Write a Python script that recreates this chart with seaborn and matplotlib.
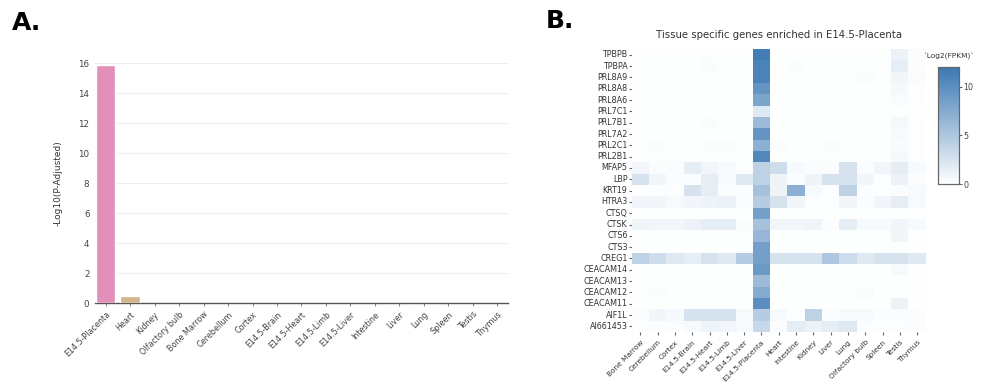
import matplotlib
matplotlib.use("Agg")
import matplotlib.pyplot as plt
import seaborn as sns
import pandas as pd
import numpy as np
from matplotlib.colors import LinearSegmentedColormap

# Panel A: enrichment per tissue
bar_tissues = ["E14.5-Placenta", "Heart", "Kidney", "Olfactory bulb", "Bone Marrow",
               "Cerebellum", "Cortex", "E14.5-Brain", "E14.5-Heart", "E14.5-Limb",
               "E14.5-Liver", "Intestine", "Liver", "Lung", "Spleen", "Testis", "Thymus"]
bar_values = [15.9, 0.48, 0.02, 0.01, 0, 0, 0, 0, 0, 0, 0, 0, 0, 0, 0, 0, 0]
bar_colors = ["#e28fba", "#d2b48c"] + ["#bfbfbf"] * 15

# Panel B: expression heatmap
heat_tissues = ["Bone Marrow", "Cerebellum", "Cortex", "E14.5-Brain", "E14.5-Heart",
                "E14.5-Limb", "E14.5-Liver", "E14.5-Placenta", "Heart", "Intestine",
                "Kidney", "Liver", "Lung", "Olfactory bulb", "Spleen", "Testis", "Thymus"]
genes = ["TPBPB", "TPBPA", "PRL8A9", "PRL8A8", "PRL8A6", "PRL7C1", "PRL7B1", "PRL7A2",
         "PRL2C1", "PRL2B1", "MFAP5", "LBP", "KRT19", "HTRA3", "CTSQ", "CTSK", "CTS6",
         "CTS3", "CREG1", "CEACAM14", "CEACAM13", "CEACAM12", "CEACAM11", "AIF1L", "AI661453"]
log2_fpkm = [
    [0.1, 0.1, 0.1, 0.1, 0.2, 0.1, 0.1, 11.5, 0.1, 0.1, 0.1, 0.1, 0.1, 0.1, 0.1, 1.2, 0.3],
    [0.1, 0.1, 0.1, 0.1, 0.3, 0.1, 0.1, 11.0, 0.1, 0.3, 0.1, 0.1, 0.1, 0.1, 0.1, 1.5, 0.3],
    [0.1, 0.1, 0.1, 0.1, 0.1, 0.1, 0.1, 11.0, 0.1, 0.2, 0.1, 0.1, 0.1, 0.3, 0.1, 0.8, 0.4],
    [0.1, 0.1, 0.1, 0.1, 0.1, 0.1, 0.1, 9.5, 0.1, 0.1, 0.1, 0.1, 0.1, 0.1, 0.1, 0.6, 0.2],
    [0.1, 0.1, 0.1, 0.1, 0.1, 0.1, 0.1, 8.0, 0.1, 0.1, 0.1, 0.1, 0.1, 0.1, 0.1, 0.4, 0.2],
    [0.1, 0.1, 0.1, 0.1, 0.1, 0.1, 0.1, 2.0, 0.1, 0.1, 0.1, 0.1, 0.1, 0.1, 0.1, 0.1, 0.1],
    [0.1, 0.1, 0.1, 0.1, 0.3, 0.1, 0.1, 6.0, 0.1, 0.1, 0.1, 0.1, 0.1, 0.1, 0.1, 0.6, 0.2],
    [0.1, 0.1, 0.1, 0.1, 0.1, 0.1, 0.1, 9.5, 0.1, 0.1, 0.1, 0.1, 0.1, 0.1, 0.1, 0.5, 0.2],
    [0.1, 0.3, 0.1, 0.2, 0.3, 0.3, 0.1, 7.0, 0.3, 0.1, 0.1, 0.3, 0.1, 0.1, 0.1, 0.4, 0.2],
    [0.1, 0.1, 0.1, 0.1, 0.1, 0.1, 0.1, 10.5, 0.1, 0.1, 0.1, 0.1, 0.1, 0.1, 0.1, 0.6, 0.2],
    [0.8, 0.3, 0.3, 1.5, 0.8, 0.5, 0.2, 4.0, 3.0, 0.5, 0.3, 0.3, 2.5, 0.3, 0.8, 1.5, 0.5],
    [2.5, 0.8, 0.3, 0.3, 1.5, 0.5, 2.0, 4.0, 1.0, 0.3, 1.0, 2.5, 2.5, 0.8, 0.2, 1.2, 0.3],
    [0.2, 0.2, 0.2, 2.5, 1.5, 0.3, 0.2, 5.5, 1.0, 7.0, 0.5, 0.2, 4.0, 0.2, 0.2, 0.3, 0.5],
    [0.8, 0.8, 0.5, 0.8, 1.0, 1.2, 0.3, 4.5, 2.5, 0.8, 0.2, 0.2, 0.8, 0.3, 0.8, 1.5, 0.5],
    [0.1, 0.1, 0.1, 0.1, 0.1, 0.1, 0.1, 8.5, 0.1, 0.1, 0.1, 0.1, 0.1, 0.1, 0.1, 0.1, 0.1],
    [1.0, 0.8, 0.8, 1.2, 1.5, 1.5, 0.3, 5.5, 0.8, 0.8, 1.0, 0.3, 1.5, 0.5, 0.5, 0.8, 0.5],
    [0.1, 0.1, 0.1, 0.1, 0.1, 0.1, 0.1, 6.5, 0.1, 0.1, 0.1, 0.1, 0.1, 0.1, 0.1, 0.8, 0.1],
    [0.1, 0.1, 0.1, 0.1, 0.1, 0.1, 0.1, 8.5, 0.1, 0.1, 0.1, 0.1, 0.1, 0.1, 0.1, 0.1, 0.1],
    [4.0, 3.0, 2.0, 1.5, 2.5, 2.0, 4.5, 8.5, 2.5, 2.5, 2.5, 5.0, 3.0, 2.0, 2.5, 2.5, 2.0],
    [0.1, 0.1, 0.1, 0.1, 0.1, 0.1, 0.1, 9.0, 0.1, 0.1, 0.1, 0.1, 0.1, 0.1, 0.1, 0.5, 0.1],
    [0.1, 0.1, 0.1, 0.1, 0.1, 0.1, 0.1, 6.0, 0.1, 0.1, 0.1, 0.1, 0.1, 0.1, 0.1, 0.1, 0.1],
    [0.1, 0.3, 0.1, 0.1, 0.1, 0.1, 0.1, 7.5, 0.1, 0.1, 0.1, 0.1, 0.1, 0.4, 0.1, 0.1, 0.1],
    [0.1, 0.1, 0.1, 0.1, 0.1, 0.1, 0.1, 10.0, 0.1, 0.1, 0.1, 0.1, 0.1, 0.1, 0.1, 1.2, 0.1],
    [0.3, 0.8, 0.6, 2.5, 2.5, 2.5, 0.5, 4.5, 0.5, 0.2, 4.0, 0.3, 0.5, 0.5, 0.3, 0.3, 0.3],
    [0.2, 0.2, 0.3, 0.5, 1.0, 0.8, 0.5, 3.5, 0.3, 1.5, 1.2, 1.5, 2.0, 0.2, 0.2, 0.2, 0.3],
]

sns.set_style("white")
plt.rcParams['font.family'] = ['DejaVu Sans']

fig = plt.figure(figsize=(9.98, 3.87), dpi=100)

# ---- A. bar chart
ax1 = fig.add_axes([0.0952, 0.217, 0.4138, 0.620])
bar_df = pd.DataFrame({"tissue": bar_tissues, "value": bar_values})
sns.barplot(data=bar_df, x="tissue", y="value", hue="tissue", palette=bar_colors,
            legend=False, width=0.8, saturation=1, ax=ax1, zorder=3)
ax1.set_ylim(0, 16)
ax1.set_yticks(range(0, 17, 2))
ax1.grid(axis="y", color="#eeeeee", linewidth=0.8, zorder=0)
ax1.set_axisbelow(True)
for s in ["top", "right", "left"]:
    ax1.spines[s].set_visible(False)
ax1.spines["bottom"].set_color("#555555")
ax1.spines["bottom"].set_linewidth(1.0)
ax1.set_xlabel("")
ax1.set_ylabel("-Log10(P-Adjusted)", fontsize=6.5, color="#333333", labelpad=11)
ax1.tick_params(axis="x", labelsize=5.8, labelcolor="#444444", rotation=45, length=2,
                color="#888888", bottom=True, pad=3)
ax1.tick_params(axis="y", labelsize=6.3, labelcolor="#444444", length=0, pad=4)
for lbl in ax1.get_xticklabels():
    lbl.set_ha("right")
    lbl.set_rotation_mode("anchor")
ax1.set_xlim(-0.43, len(bar_tissues) - 0.57)

# ---- B. heatmap
ax2 = fig.add_axes([0.633, 0.142, 0.2946, 0.731])
cax = fig.add_axes([0.940, 0.5245, 0.021, 0.302])
heat_df = pd.DataFrame(log2_fpkm, index=genes, columns=heat_tissues)
cmap = LinearSegmentedColormap.from_list("wb", ["#ffffff", "#3b78b3"])
sns.heatmap(heat_df, cmap=cmap, vmin=0, vmax=12, ax=ax2, cbar_ax=cax,
            xticklabels=True, yticklabels=True, cbar_kws={"ticks": [0, 5, 10]})
ax2.set_title("Tissue specific genes enriched in E14.5-Placenta", fontsize=7.3,
              color="#333333", pad=8)
ax2.tick_params(axis="y", labelsize=5.8, labelcolor="#333333", length=2, color="#666666",
                left=True, pad=1)
ax2.tick_params(axis="x", labelsize=5.3, labelcolor="#333333", length=2, color="#666666",
                bottom=True, pad=3)
plt.setp(ax2.get_yticklabels(), rotation=0)
plt.setp(ax2.get_xticklabels(), rotation=45, ha="right", rotation_mode="anchor")
ax2.set_xlabel("")
ax2.set_ylabel("")

cax.tick_params(labelsize=5.8, labelcolor="#444444", length=2, color="#666666", pad=1)
for s in cax.spines.values():
    s.set_visible(True)
    s.set_color("#666666")
    s.set_linewidth(0.8)
cax.set_title("`Log2(FPKM)`", fontsize=5.3, color="#333333", pad=6)

fig.text(0.012, 0.922, "A.", fontsize=18, fontweight="bold", color="black",
         family="DejaVu Sans")
fig.text(0.547, 0.927, "B.", fontsize=18, fontweight="bold", color="black",
         family="DejaVu Sans")

fig.savefig("out.png", dpi=100)
